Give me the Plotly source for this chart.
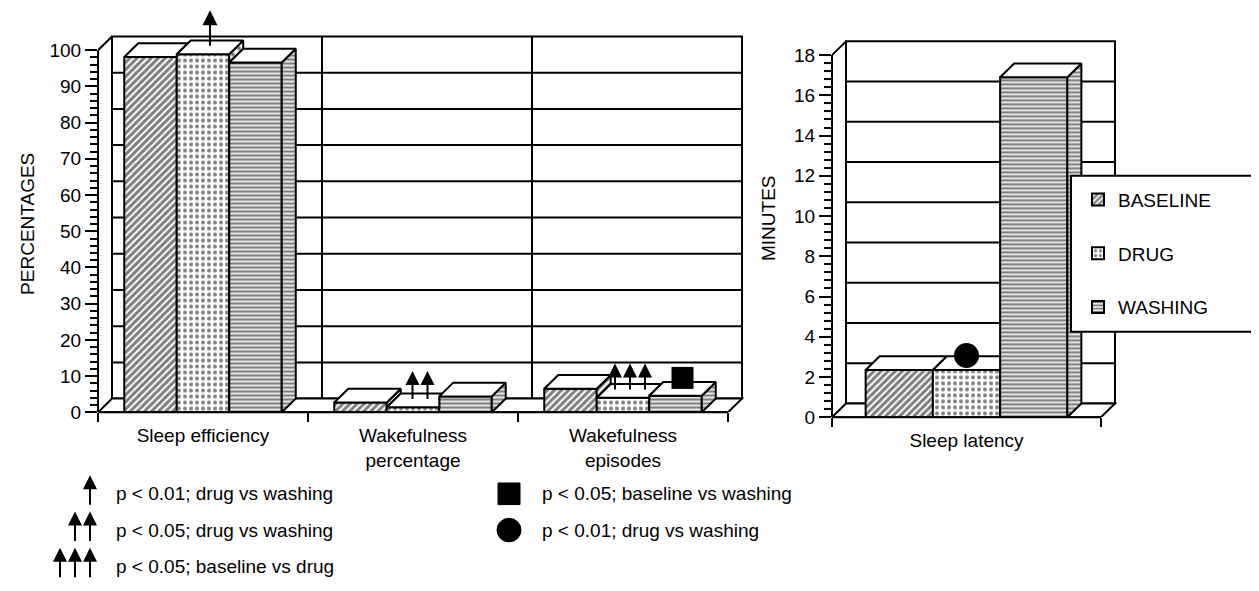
import plotly.graph_objects as go

W, H = 1259, 591
FONT = "Liberation Sans, Arial, Helvetica, sans-serif"

# ---------------- data ----------------
SERIES = ["BASELINE", "DRUG", "WASHING"]

PCT_CATEGORIES = ["Sleep efficiency", "Wakefulness<br>percentage", "Wakefulness<br>episodes"]
PCT_BASELINE = [98.1, 2.7, 6.5]
PCT_DRUG = [98.9, 1.4, 4.0]
PCT_WASHING = [96.6, 4.4, 4.6]
PCT_TICKS = [0, 10, 20, 30, 40, 50, 60, 70, 80, 90, 100]

LAT_CATEGORIES = ["Sleep latency"]
LAT_BASELINE = [2.35]
LAT_DRUG = [2.35]
LAT_WASHING = [16.9]
LAT_TICKS = [0, 2, 4, 6, 8, 10, 12, 14, 16, 18]

# significance marks: (category index, series index, number of arrows, arrow tip level)
ARROW_MARKS = [(0, 1, 1, 111.0), (1, 1, 2, 11.4), (2, 1, 3, 13.5)]
# square mark in the percentage panel: (category index, series index, level)
SQUARE_MARKS = [(2, 2, 9.5)]
# circle mark in the latency panel: (category index, series index, level)
CIRCLE_MARKS = [(0, 1, 3.07)]

FOOTNOTES_ARROWS = [(1, "p < 0.01; drug vs washing"),
                    (2, "p < 0.05; drug vs washing"),
                    (3, "p < 0.05; baseline vs drug")]
FOOTNOTES_SYMBOLS = [("square", "p < 0.05; baseline vs washing"),
                     ("circle", "p < 0.01; drug vs washing")]

# ---------------- styles ----------------
PATTERNS = [dict(shape="/", size=5, solidity=0.6),
            dict(shape=".", size=6, solidity=0.35),
            dict(shape="-", size=4, solidity=0.6)]
LINE = dict(color="black", width=2)
DEPTH = 14      # px of the pseudo-3D depth
PAD = 3         # px
BAR_W = 0.25    # bar width in category units


def panel(x_px, y0_px, ytop_px, cat_px, ncat, vmax):
    pxy = (y0_px - ytop_px) / vmax
    dx = DEPTH / cat_px
    dy = DEPTH / pxy
    return dict(
        dx=dx, dy=dy, ncat=ncat, vmax=vmax, cat_px=cat_px, pxy=pxy,
        xrange=[-0.5, ncat - 0.5 + (DEPTH + PAD) / cat_px],
        xdomain=[x_px / W, (x_px + ncat * cat_px + DEPTH + PAD) / W],
        yrange=[0, vmax + (DEPTH + PAD) / pxy],
        ydomain=[1 - y0_px / H, 1 - (ytop_px - DEPTH - PAD) / H],
    )


LP = panel(90, 412, 43, 210, 3, 100)
RP = panel(824, 417, 48, 269, 1, 18)

fig = go.Figure()
shapes = []
annotations = []


def poly_trace(pts, xa, ya, fill_pattern=None):
    xs = [p[0] for p in pts] + [pts[0][0]]
    ys = [p[1] for p in pts] + [pts[0][1]]
    kw = dict(x=xs, y=ys, mode="lines", fill="toself", fillcolor="white",
              line=LINE, hoverinfo="skip", showlegend=False, xaxis=xa, yaxis=ya)
    if fill_pattern is not None:
        kw["fillpattern"] = dict(fgcolor="black", bgcolor="white", **fill_pattern)
    return go.Scatter(**kw)


def add_panel(values, P, xa, ya, showlegend):
    n = len(values[0])
    dx, dy = P["dx"], P["dy"]
    for s, name in enumerate(SERIES):
        fig.add_trace(go.Bar(
            x=list(range(n)), y=values[s], width=BAR_W, offset=(s - 1.5) * BAR_W,
            name=name, legendgroup=name, showlegend=showlegend,
            marker=dict(color="white", line=LINE,
                        pattern=dict(fgcolor="black", bgcolor="white", **PATTERNS[s])),
            xaxis=xa, yaxis=ya, hoverinfo="skip"))
    # depth faces (top and right side), clipped where the neighbouring bar hides them
    for c in range(n):
        for s in range(3):
            v = values[s][c]
            xl = c + (s - 1.5) * BAR_W
            xr = xl + BAR_W
            vn = values[s + 1][c] if s < 2 else None
            if vn is None or vn <= v:
                top = [(xl, v), (xl + dx, v + dy), (xr + dx, v + dy), (xr, v)]
            elif vn >= v + dy:
                top = [(xl, v), (xl + dx, v + dy), (xr, v + dy), (xr, v)]
            else:
                top = [(xl, v), (xl + dx, v + dy), (xr + dx * (v + dy - vn) / dy, v + dy),
                       (xr, vn), (xr, v)]
            if vn is None:
                side = [(xr, 0), (xr, v), (xr + dx, v + dy), (xr + dx, dy)]
            elif v > vn:
                side = [(xr, vn), (xr, v), (xr + dx, v + dy), (xr + dx, vn + dy)]
            else:
                side = None
            if side:
                fig.add_trace(poly_trace(side, xa, ya, PATTERNS[s]))
            fig.add_trace(poly_trace(top, xa, ya))


def wall_shapes(P, xa, ya, ticks):
    dx, dy = P["dx"], P["dy"]
    x0, x1 = -0.5, P["ncat"] - 0.5
    vmax = P["vmax"]
    base = dict(xref=xa, yref=ya, line=LINE, layer="below")
    shapes.append(dict(type="rect", x0=x0 + dx, x1=x1 + dx, y0=dy, y1=vmax + dy,
                       fillcolor="white", **base))
    for t in ticks[1:-1]:
        shapes.append(dict(type="line", x0=x0 + dx, x1=x1 + dx, y0=t + dy, y1=t + dy, **base))
    for k in range(P["ncat"] - 1):
        shapes.append(dict(type="line", x0=k + 0.5 + dx, x1=k + 0.5 + dx, y0=dy, y1=vmax + dy, **base))
    shapes.append(dict(type="path", path=f"M{x0},0 L{x0 + dx},{dy} L{x1 + dx},{dy} L{x1},0 Z",
                       fillcolor="white", **base))
    shapes.append(dict(type="line", x0=x0, x1=x0 + dx, y0=vmax, y1=vmax + dy, **base))
    # front axis lines
    shapes.append(dict(type="line", xref=xa + " domain", yref=ya, x0=0, x1=0, y0=0, y1=vmax,
                       line=LINE, layer="above"))
    shapes.append(dict(type="line", xref=xa, yref=ya + " domain", x0=x0, x1=x1, y0=0, y1=0,
                       line=LINE, layer="above"))


pct_values = [PCT_BASELINE, PCT_DRUG, PCT_WASHING]
lat_values = [LAT_BASELINE, LAT_DRUG, LAT_WASHING]
add_panel(pct_values, LP, "x", "y", True)
add_panel(lat_values, RP, "x2", "y2", False)
wall_shapes(LP, "x", "y", PCT_TICKS)
wall_shapes(RP, "x2", "y2", LAT_TICKS)

# significance arrows on the percentage panel
for c, s, count, tip in ARROW_MARKS:
    xc = c + (s - 1) * BAR_W + LP["dx"] / 2
    v = pct_values[s][c]
    gap = 15 / LP["cat_px"]
    for i in range(count):
        xx = xc + (i - (count - 1) / 2) * gap
        annotations.append(dict(x=xx, y=tip, ax=xx, ay=v + LP["dy"] / 2, xref="x", yref="y",
                                axref="x", ayref="y", text="", showarrow=True, arrowhead=2,
                                arrowsize=1.4 if count > 1 else 1.5, arrowwidth=2,
                                arrowcolor="black", standoff=0, startstandoff=0))

for c, s, lvl in SQUARE_MARKS:
    fig.add_trace(go.Scatter(x=[c + (s - 1) * BAR_W + LP["dx"] / 2], y=[lvl], mode="markers",
                             marker=dict(symbol="square", size=22, color="black"),
                             cliponaxis=False, showlegend=False, hoverinfo="skip",
                             xaxis="x", yaxis="y"))
for c, s, lvl in CIRCLE_MARKS:
    fig.add_trace(go.Scatter(x=[c + (s - 1) * BAR_W], y=[lvl], mode="markers",
                             marker=dict(symbol="circle", size=25, color="black"),
                             cliponaxis=False, showlegend=False, hoverinfo="skip",
                             xaxis="x2", yaxis="y2"))

# axis titles
annotations.append(dict(text="PERCENTAGES", x=20 / W, y=1 - 220 / H, xref="paper", yref="paper",
                        xanchor="center", yanchor="middle",
                        textangle=-90, showarrow=False, font=dict(size=19, family=FONT, color="black")))
annotations.append(dict(text="MINUTES", x=760 / W, y=1 - 214 / H, xref="paper", yref="paper",
                        xanchor="center", yanchor="middle",
                        textangle=-90, showarrow=False, font=dict(size=19, family=FONT, color="black")))

# footnotes
FN_ARROW_X = 82
FN_TEXT_X = 106
FN_ROW_Y = [495, 532, 569]
FN_GAP = 15
for k, (count, label) in enumerate(FOOTNOTES_ARROWS):
    yrow = FN_ROW_Y[k]
    for i in range(count):
        xx = FN_ARROW_X - (count - 1 - i) * FN_GAP
        annotations.append(dict(x=xx / W, y=1 - (yrow - 19) / H, xref="paper", yref="paper",
                                ax=0, ay=31, text="", showarrow=True, arrowhead=2,
                                arrowsize=1.4, arrowwidth=2, arrowcolor="black", standoff=0))
    annotations.append(dict(x=FN_TEXT_X / W, y=1 - yrow / H, xref="paper", yref="paper",
                            text=label, showarrow=False, xanchor="left", yanchor="middle",
                            font=dict(size=19, family=FONT, color="black")))

SYM_X = 501
SYM_TEXT_X = 532
for k, (sym, label) in enumerate(FOOTNOTES_SYMBOLS):
    yrow = FN_ROW_Y[k]
    r = 11 if sym == "square" else 12
    shapes.append(dict(type="rect" if sym == "square" else "circle", xref="paper", yref="paper",
                       x0=(SYM_X - r) / W, x1=(SYM_X + r) / W, y0=1 - (yrow + r) / H,
                       y1=1 - (yrow - r) / H, fillcolor="black", line=dict(color="black", width=1)))
    annotations.append(dict(x=SYM_TEXT_X / W, y=1 - yrow / H, xref="paper", yref="paper",
                            text=label, showarrow=False, xanchor="left", yanchor="middle",
                            font=dict(size=19, family=FONT, color="black")))

# legend frame
shapes.append(dict(type="rect", xref="paper", yref="paper", x0=1063 / W, x1=1262 / W,
                   y0=1 - 330 / H, y1=1 - 171 / H, fillcolor="white", line=LINE, layer="above"))

tickfont = dict(size=19, family=FONT, color="black")
axis_common = dict(showgrid=False, zeroline=False, showline=False, tickfont=tickfont)

fig.update_layout(
    width=W, height=H, autosize=False,
    margin=dict(l=0, r=0, t=0, b=0),
    paper_bgcolor="white", plot_bgcolor="rgba(0,0,0,0)",
    barmode="overlay",
    font=dict(family=FONT, color="black"),
    xaxis=dict(domain=LP["xdomain"], range=LP["xrange"], anchor="y",
               tickvals=[0, 1, 2], ticktext=PCT_CATEGORIES, ticks="",
               tickfont=tickfont, ticklabelstandoff=10,
               minor=dict(tickvals=[-0.5, 0.5, 1.5, 2.5], ticks="outside", ticklen=9,
                          tickwidth=2, tickcolor="black", showgrid=False),
               showgrid=False, zeroline=False, showline=False),
    yaxis=dict(domain=LP["ydomain"], range=LP["yrange"], anchor="x",
               tickvals=PCT_TICKS, ticks="outside", ticklen=12, tickwidth=2, tickcolor="black",
               minor=dict(tickvals=[v for v in range(0, 101, 2) if v % 10], ticks="outside",
                          ticklen=7, tickwidth=1.5, tickcolor="black", showgrid=False),
               **axis_common),
    xaxis2=dict(domain=RP["xdomain"], range=RP["xrange"], anchor="y2",
                tickvals=[0], ticktext=LAT_CATEGORIES, ticks="",
                tickfont=tickfont, ticklabelstandoff=10,
                minor=dict(tickvals=[-0.5, 0.5], ticks="outside", ticklen=9,
                           tickwidth=2, tickcolor="black", showgrid=False),
                showgrid=False, zeroline=False, showline=False),
    yaxis2=dict(domain=RP["ydomain"], range=RP["yrange"], anchor="x2",
                tickvals=LAT_TICKS, ticks="outside", ticklen=12, tickwidth=2, tickcolor="black",
                minor=dict(tickvals=[round(0.4 * k, 1) for k in range(46) if k % 5],
                           ticks="outside", ticklen=7, tickwidth=1.5, tickcolor="black",
                           showgrid=False),
                **axis_common),
    legend=dict(x=1070 / W, y=1 - 176 / H, xanchor="left", yanchor="top",
                font=dict(size=19, family=FONT, color="black"),
                bgcolor="rgba(0,0,0,0)", borderwidth=0, tracegroupgap=26),
    shapes=shapes,
    annotations=annotations,
)

fig.write_html("out.html")
